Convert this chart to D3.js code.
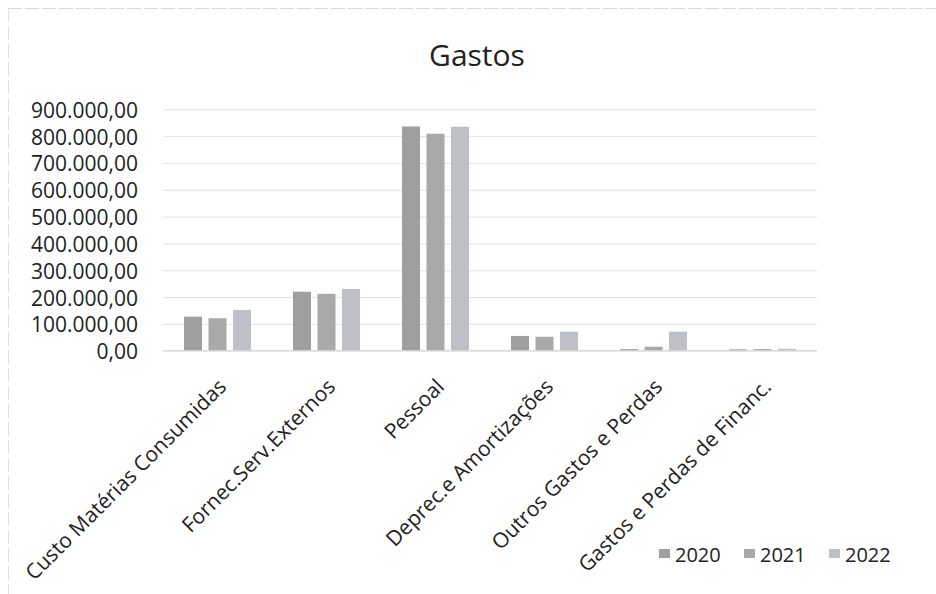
<!DOCTYPE html>
<html>
<head>
<meta charset="utf-8">
<script src="https://cdn.jsdelivr.net/npm/d3@7"></script>
<style>
  html, body { margin: 0; padding: 0; background: #fff; }
  svg { display: block; font-family: "Open Sans", "Noto Sans", sans-serif; }
</style>
</head>
<body>
<svg id="chart" width="936" height="594"></svg>
<script>
const categories = ["Custo Matérias Consumidas", "Fornec.Serv.Externos", "Pessoal", "Deprec.e Amortizações", "Outros Gastos e Perdas", "Gastos e Perdas de Financ."];
const years = ["2020", "2021", "2022"];
const values2020 = [127000, 220000, 836000, 55000, 6000, 5000];
const values2021 = [121000, 212000, 809000, 52000, 15000, 6000];
const values2022 = [152000, 230000, 835000, 71000, 71000, 7000];
const yTicks = [0, 100000, 200000, 300000, 400000, 500000, 600000, 700000, 800000, 900000];
const colors = ["#9f9f9f", "#a9a9a9", "#bec0c8"];
const title = "Gastos";

const series = [values2020, values2021, values2022];
const svg = d3.select("#chart");

// frame (faint, as in the scan)
svg.append("line").attr("x1", 8).attr("x2", 936).attr("y1", 8.5).attr("y2", 8.5)
  .attr("stroke", "#d8d8d8").attr("stroke-width", 1).attr("stroke-dasharray", "14,3");
svg.append("line").attr("x1", 8.5).attr("x2", 8.5).attr("y1", 8).attr("y2", 594)
  .attr("stroke", "#e2e2e2").attr("stroke-width", 1).attr("stroke-dasharray", "14,4");

const x0 = d3.scaleBand().domain(categories).range([163, 817]).padding(0);
const x1 = d3.scaleBand().domain(years).range([0, 67]).paddingInner(0.265).paddingOuter(0);
const y = d3.scaleLinear().domain([0, 900000]).range([350.7, 109.3]);

const locale = d3.formatLocale({ decimal: ",", thousands: ".", grouping: [3], currency: ["", ""] });
const fmt = locale.format(",.2f");

// title
svg.append("text").attr("x", 477).attr("y", 66).attr("text-anchor", "middle")
  .attr("font-size", 30).attr("fill", "#222").text(title);

// gridlines
const grid = svg.append("g")
  .call(d3.axisLeft(y).tickValues(yTicks).tickSize(-(817 - 163)).tickFormat(""))
  .attr("transform", "translate(163,0)");
grid.select(".domain").remove();
grid.selectAll(".tick line").attr("stroke", "#e2e2e2").attr("stroke-width", 1);

// y tick labels
svg.append("g").selectAll("text").data(yTicks).join("text")
  .attr("x", 138).attr("y", d => y(d) + 8.5)
  .attr("text-anchor", "end").attr("font-size", 21).attr("fill", "#222")
  .text(d => fmt(d));

// bars
const groups = svg.append("g").selectAll("g").data(categories).join("g")
  .attr("transform", c => `translate(${x0(c) + (x0.bandwidth() - 67) / 2},0)`);
groups.selectAll("rect").data((c, i) => years.map((yr, j) => ({ yr, j, v: series[j][i] }))).join("rect")
  .attr("x", d => x1(d.yr)).attr("width", x1.bandwidth())
  .attr("y", d => y(d.v)).attr("height", d => y(0) - y(d.v))
  .attr("fill", d => colors[d.j]);

// baseline
svg.append("line").attr("x1", 163).attr("x2", 817).attr("y1", y(0)).attr("y2", y(0))
  .attr("stroke", "#d6d6d6").attr("stroke-width", 1);

// x labels
svg.append("g").selectAll("text").data(categories).join("text")
  .attr("transform", c => `translate(${x0(c) + x0.bandwidth() / 2 + 10},388) rotate(-45)`)
  .attr("text-anchor", "end").attr("font-size", 21).attr("fill", "#222")
  .text(c => c);

// legend
const legendX = [675, 760, 845];
const leg = svg.append("g").selectAll("g").data(years).join("g");
leg.append("rect").attr("x", (d, i) => legendX[i] - 16).attr("y", 549).attr("width", 11).attr("height", 9)
  .attr("fill", (d, i) => colors[i]);
leg.append("text").attr("x", (d, i) => legendX[i]).attr("y", 562).attr("font-size", 20).attr("fill", "#222")
  .text(d => d);
</script>
</body>
</html>
